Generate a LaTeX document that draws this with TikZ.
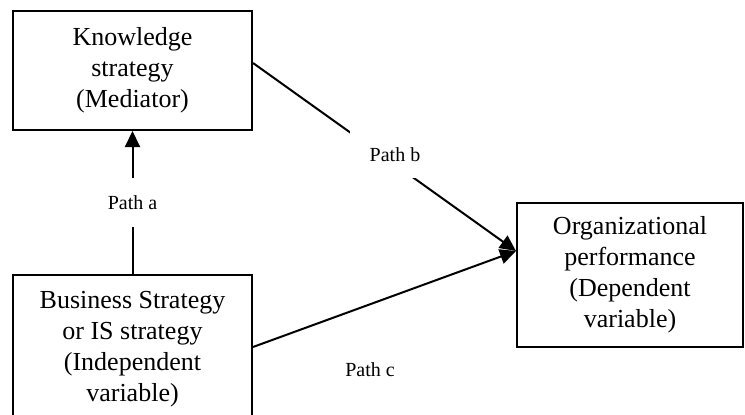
\documentclass[tikz,border=0pt]{standalone}
\usepackage{fontspec}
\setmainfont{Liberation Serif}
\usetikzlibrary{arrows.meta}
\begin{document}
\begin{tikzpicture}[x=1pt,y=-1pt,
  box/.style={draw, line width=2pt, align=center, inner sep=0pt,
    font=\fontsize{26}{31}\selectfont},
  conn/.style={line width=2pt},
  arr/.style={conn, -{Triangle[length=16pt,width=15pt]}},
  pathlabel/.style={fill=white, inner sep=0pt, font=\fontsize{20}{24}\selectfont}]
  % page area; the lower box runs past its bottom edge
  \clip (0,0) rectangle (745,415);
  \fill[white] (0,0) rectangle (745,415);

  \node[box, minimum width=239pt, minimum height=119pt] (know) at (132.5,70.5)
    {Knowledge\\strategy\\(Mediator)};
  \node[box, minimum width=239pt, minimum height=149pt] (bus) at (132.5,349.5)
    {Business Strategy\\or IS strategy\\(Independent\\variable)};
  \node[box, minimum width=226pt, minimum height=144pt] (org) at (630,275)
    {Organizational\\performance\\(Dependent\\variable)};

  \coordinate (tip) at ([yshift=24pt]org.west);

  % path a: mediator is predicted by the independent variable
  \draw[arr] (bus.north) -- (know.south);
  \node[pathlabel, minimum width=60pt, minimum height=49pt] (la) at (132.5,202.5) {Path a};

  % path b: mediator to outcome
  \draw[arr] ([yshift=7.5pt]know.east) -- (tip);
  \node[pathlabel, minimum width=90pt, minimum height=47pt] (lb) at (395,154.5) {Path b};

  % path c: direct effect
  \draw[arr] ([yshift=2.5pt]bus.east) -- (tip);
  \node[pathlabel] (lc) at (370,370) {Path c};
\end{tikzpicture}
\end{document}
